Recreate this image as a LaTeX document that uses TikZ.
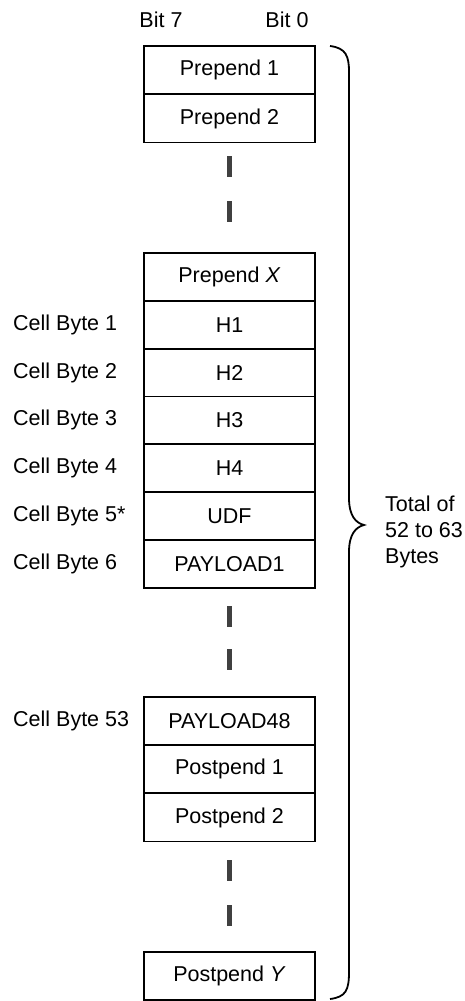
\documentclass[tikz,border=0pt]{standalone}
\usepackage{fontspec}
\setmainfont{Liberation Sans}
\begin{document}
\begin{tikzpicture}[x=1pt,y=-1pt,
  every node/.style={font=\fontsize{21.5}{26}\selectfont},
  cell/.style={draw, line width=1.7pt, minimum width=171pt, minimum height=47.8pt, inner sep=0pt},
  lbl/.style={anchor=west, inner sep=0pt},
  dotbar/.style={fill=black!75, minimum width=5pt, minimum height=21pt, inner sep=0pt}]
\useasboundingbox (0,0) rectangle (465,1001);
% header
\node (b7) at (161,20) {Bit 7};
\node (b0) at (287,20) {Bit 0};
% block 1
\node[cell] (p1) at (229.5,70) {Prepend 1};
\node[cell] (p2) at (229.5,118.5) {Prepend 2};
\node[dotbar] (d1) at (229,166) {};
\node[dotbar] (d2) at (229,211) {};
% block 2
\node[cell] (px) at (229.5,277) {Prepend \textit{X}};
\node[cell] (h1) at (229.5,324.8) {H1};
\node[cell] (h2) at (229.5,372.6) {H2};
\node[cell] (h3) at (229.5,420.4) {H3};
\node[cell] (h4) at (229.5,468.2) {H4};
\node[cell] (udf) at (229.5,516) {UDF};
\node[cell] (pl1) at (229.5,563.8) {PAYLOAD1};
\node[lbl] (l1) at (13,324.8) {Cell Byte 1};
\node[lbl] (l2) at (13,372.6) {Cell Byte 2};
\node[lbl] (l3) at (13,420.4) {Cell Byte 3};
\node[lbl] (l4) at (13,468.2) {Cell Byte 4};
\node[lbl] (l5) at (13,516) {Cell Byte 5*};
\node[lbl] (l6) at (13,563.8) {Cell Byte 6};
\node[dotbar] (d3) at (229,616) {};
\node[dotbar] (d4) at (229,659) {};
% block 3
\node[cell] (pl48) at (229.5,721) {PAYLOAD48};
\node[cell] (q1) at (229.5,769) {Postpend 1};
\node[cell] (q2) at (229.5,817.5) {Postpend 2};
\node[lbl] (l53) at (13,721) {Cell Byte 53};
\node[dotbar] (d5) at (229,870) {};
\node[dotbar] (d6) at (229,915) {};
% block 4
\node[cell] (qy) at (229.5,976) {Postpend \textit{Y}};
% brace
\coordinate (bt) at (330,46);
\coordinate (bm) at (364,525);
\coordinate (bb) at (330,999);
\draw[line width=1.8pt] (bt) .. controls (346,48) and (349,56) .. (349,72)
  -- (349,498) .. controls (349,516) and (356,523) .. (bm)
  .. controls (356,527) and (349,534) .. (349,552)
  -- (349,972) .. controls (349,990) and (346,997) .. (bb);
\node[anchor=west, align=left, inner sep=0pt] (tot) at (385,532) {Total of\\52 to 63\\Bytes};
\end{tikzpicture}
\end{document}
